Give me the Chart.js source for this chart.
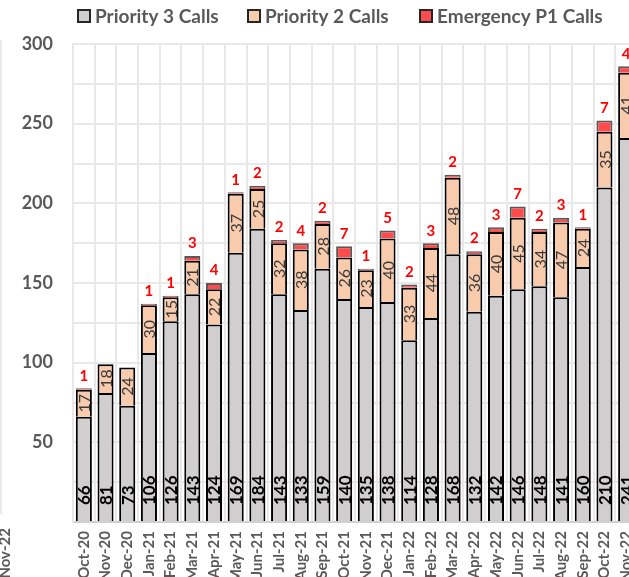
<!DOCTYPE html>
<html>
<head>
<meta charset="utf-8">
<script src="https://cdn.jsdelivr.net/npm/chart.js@4"></script>
<style>
  html, body { margin: 0; padding: 0; overflow: hidden; background: #fff; }
  #wrap { width: 637px; height: 590px; }
</style>
</head>
<body>
<div id="wrap"><canvas id="callsChart"></canvas></div>
<script>
/* monthly call volumes */

const months = ['Oct-20', 'Nov-20', 'Dec-20', 'Jan-21', 'Feb-21', 'Mar-21', 'Apr-21', 'May-21', 'Jun-21',
    'Jul-21', 'Aug-21', 'Sep-21', 'Oct-21', 'Nov-21', 'Dec-21', 'Jan-22', 'Feb-22', 'Mar-22', 'Apr-22',
    'May-22', 'Jun-22', 'Jul-22', 'Aug-22', 'Sep-22', 'Oct-22', 'Nov-22'];
const priority3 = [66, 81, 73, 106, 126, 143, 124, 169, 184, 143, 133, 159, 140, 135, 138, 114, 128, 168, 132, 142, 146, 148, 141, 160, 210, 241];
const priority2 = [17, 18, 24, 30, 15, 21, 22, 37, 25, 32, 38, 28, 26, 23, 40, 33, 44, 48, 36, 40, 45, 34, 47, 24, 35, 41];
const emergencyP1 = [1, 0, 0, 1, 1, 3, 4, 1, 2, 2, 4, 2, 7, 1, 5, 2, 3, 2, 2, 3, 7, 2, 3, 1, 7, 4];
const yTickLabels = [50, 100, 150, 200, 250, 300];

const axisGray = '#595959';
const gridGray = '#e8e8e8';
const legendX = [78, 248, 420];

/* value labels + legend drawn on the canvas */
const callLabels = {
    id: 'callLabels',
    afterDatasetsDraw(chart) {
        const ctx = chart.ctx;
        const p3Bars = chart.getDatasetMeta(0).data;
        const p2Bars = chart.getDatasetMeta(1).data;
        const p1Bars = chart.getDatasetMeta(2).data;

        months.forEach(function(m, i) {
            // priority 3 - rotated, sitting on the base
            const b3 = p3Bars[i];
            ctx.save();
            ctx.translate(b3.x, b3.base - 16);
            ctx.rotate(-Math.PI / 2);
            ctx.font = 'bold 17px Lato';
            ctx.fillStyle = '#000';
            ctx.textAlign = 'left';
            ctx.textBaseline = 'middle';
            ctx.fillText(priority3[i], 0, 1);
            ctx.restore();

            // priority 2 - rotated, centred in its segment
            const b2 = p2Bars[i];
            ctx.save();
            ctx.translate(b2.x, (b2.y + b2.base) / 2);
            ctx.rotate(-Math.PI / 2);
            ctx.font = '16px Lato';
            ctx.fillStyle = '#3a3a3a';
            ctx.textAlign = 'center';
            ctx.textBaseline = 'middle';
            ctx.fillText(priority2[i], 0, 1);
            ctx.restore();

            // emergency - red, above the stack
            if (emergencyP1[i] > 0) {
                const b1 = p1Bars[i];
                ctx.save();
                ctx.font = 'bold 15px Lato';
                ctx.fillStyle = '#ff0000';
                ctx.textAlign = 'center';
                ctx.textBaseline = 'bottom';
                ctx.fillText(emergencyP1[i], b1.x, b1.y - 5);
                ctx.restore();
            }
        });
    },
    afterDraw(chart) {
        const ctx = chart.ctx;
        ctx.save();
        ctx.font = 'bold 19px Lato';
        ctx.textBaseline = 'middle';
        chart.data.datasets.forEach(function(ds, i) {
            const x = legendX[i];
            ctx.fillStyle = ds.backgroundColor;
            ctx.fillRect(x, 10, 12, 12);
            ctx.strokeStyle = '#262626';
            ctx.lineWidth = 2;
            ctx.strokeRect(x, 10, 12, 12);
            ctx.fillStyle = axisGray;
            ctx.fillText(ds.label, x + 17, 17);
        });

        // edge of the neighbouring panel
        ctx.strokeStyle = '#e3e3e3';
        ctx.lineWidth = 1.5;
        ctx.beginPath();
        ctx.moveTo(1, 40);
        ctx.lineTo(1, 514);
        ctx.stroke();
        ctx.translate(10, 528);
        ctx.rotate(-Math.PI / 2);
        ctx.textAlign = 'right';
        ctx.textBaseline = 'alphabetic';
        ctx.font = 'bold 15px Lato';
        ctx.fillText('Nov-22', 0, 0);
        ctx.restore();
    }
};

const ctx = document.getElementById('callsChart').getContext('2d');

const chart = new Chart(ctx, {
    type: 'bar',
    data: {
        labels: months,
        datasets: [{
            label: 'Priority 3 Calls',
            data: priority3,
            backgroundColor: '#d0cece',
            borderColor: '#000',
            borderWidth: { top: 2, left: 2, right: 2, bottom: 0 },
            borderSkipped: false,
        },
        {
            label: 'Priority 2 Calls',
            data: priority2,
            backgroundColor: '#f8cbad',
            borderColor: '#000',
            borderWidth: { top: 2, left: 2, right: 2, bottom: 0 },
            borderSkipped: false,
        },
        {
            label: 'Emergency P1 Calls',
            data: emergencyP1.map(v => v === 0 ? null : v),
            backgroundColor: '#ff4b4b',
            borderColor: '#595959',
            borderWidth: { top: 2, left: 2, right: 2, bottom: 0 },
            borderSkipped: false,
        }]
    },
    options: {
        responsive: true,
        maintainAspectRatio: false,
        animation: false,
        layout: { padding: { top: 44, left: 0, right: 0, bottom: 0 } },
        datasets: {
            bar: { barPercentage: 0.74, categoryPercentage: 1 }
        },
        plugins: {
            legend: { display: false },
            tooltip: { enabled: false },
        },
        scales: {
            x: {
                stacked: true,
                afterFit: function(axis) {
                    axis.height = 68;
                    axis.paddingLeft = 0;
                    axis.paddingRight = 0;
                },
                grid: { color: gridGray, lineWidth: 2, drawTicks: false, offset: true },
                border: { color: '#d0d0d0', width: 2 },
                ticks: {
                    color: axisGray,
                    font: { family: 'Lato', size: 15, weight: 'bold' },
                    minRotation: 90,
                    maxRotation: 90,
                    padding: 9,
                    autoSkip: false,
                }
            },
            y: {
                stacked: true,
                min: 0,
                max: 300,
                afterFit: function(axis) { axis.width = 73; },
                grid: { color: gridGray, lineWidth: 2, drawTicks: false },
                border: { color: gridGray, width: 2 },
                ticks: {
                    stepSize: 25,
                    color: axisGray,
                    padding: 20,
                    font: { family: 'Lato', size: 18, weight: 'bold' },
                    callback: function(v) { return yTickLabels.includes(v) ? v : ''; }
                }
            }
        }
    },
    plugins: [callLabels]
});
</script>
</body>
</html>
